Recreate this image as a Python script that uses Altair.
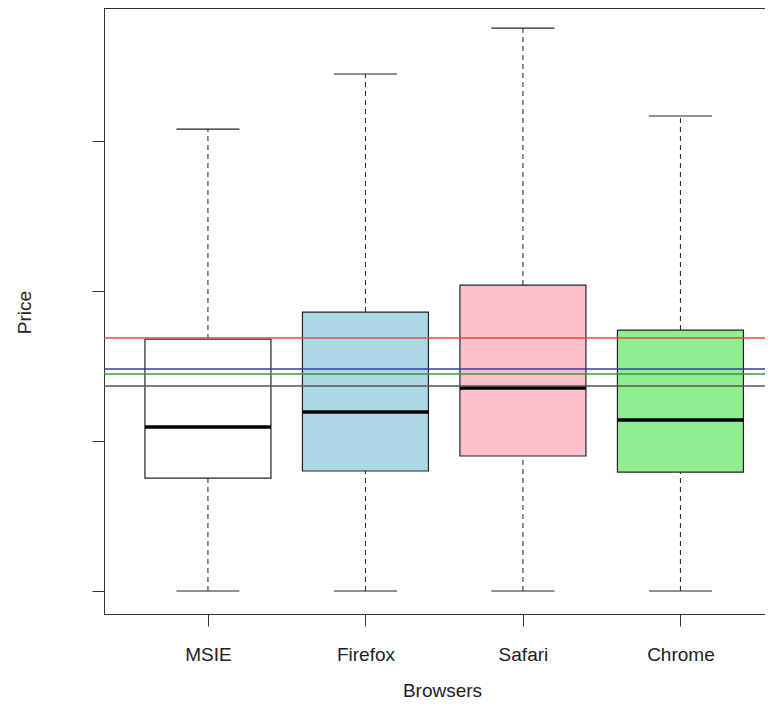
import json
import altair as alt
import pandas as pd

browsers = ["MSIE", "Firefox", "Safari", "Chrome"]
positions = [1, 2, 3, 4]
whisker_hi = [308.0, 344.7, 375.3, 316.7]
q3 = [168.0, 186.0, 204.0, 174.0]
median = [109.3, 119.3, 135.3, 114.0]
q1 = [75.3, 80.0, 90.0, 79.3]
whisker_lo = [0.0, 0.0, 0.0, 0.0]
fills = ["#FFFFFF", "#ADD8E6", "#FFC0CB", "#90EE90"]

hline_values = [168.7, 148.0, 144.7, 136.7]
hline_colors = ["#E8484A", "#2F3F9A", "#3A9A3A", "#555555"]

y_ticks = [0, 100, 200, 300]

BOX_HALF = 0.4
CAP_HALF = 0.2
X_DOMAIN = [0.34, 4.537]
Y_DOMAIN = [-15.33, 388.7]
FONT = "Liberation Sans"
W, H = 661, 606

df = pd.DataFrame({
    "browser": browsers,
    "pos": positions,
    "hi": whisker_hi,
    "q3": q3,
    "med": median,
    "q1": q1,
    "lo": whisker_lo,
    "fill": fills,
})
df["bl"] = df["pos"] - BOX_HALF
df["br"] = df["pos"] + BOX_HALF
df["cl"] = df["pos"] - CAP_HALF
df["cr"] = df["pos"] + CAP_HALF

hl = pd.DataFrame({"v": hline_values, "c": hline_colors})

label_expr = json.dumps(browsers) + "[datum.value - 1]"

xscale = alt.Scale(domain=X_DOMAIN, nice=False, zero=False)
yscale = alt.Scale(domain=Y_DOMAIN, nice=False, zero=False)

x_axis = alt.Axis(
    values=positions, labelExpr=label_expr, title="Browsers",
    grid=False, tickSize=12, tickColor="#333333", domainColor="#333333",
    labelFont=FONT, labelFontSize=19, labelColor="#222222",
    labelBaseline="alphabetic", labelPadding=34, labelFlush=False,
    titleFont=FONT, titleFontSize=19, titleFontWeight="normal", titleColor="#222222",
    titleX=338, titleY=82, titleBaseline="alphabetic", titleAlign="center",
)
y_axis = alt.Axis(
    values=y_ticks, labels=False, title="Price", grid=False,
    tickSize=12, tickColor="#333333", domainColor="#333333",
    titleFont=FONT, titleFontSize=19, titleFontWeight="normal", titleColor="#222222",
    titleAngle=-90, titleX=-74, titleY=304, titleBaseline="alphabetic", titleAlign="center",
)

base = alt.Chart(df)

upper_whisker = base.mark_rule(color="#222222", strokeWidth=1, strokeDash=[5, 4]).encode(
    x=alt.X("pos:Q", scale=xscale, axis=x_axis),
    y=alt.Y("q3:Q", scale=yscale, axis=y_axis),
    y2="hi:Q",
)
lower_whisker = base.mark_rule(color="#222222", strokeWidth=1, strokeDash=[5, 4]).encode(
    x=alt.X("pos:Q", scale=xscale), y=alt.Y("lo:Q", scale=yscale), y2="q1:Q"
)
caps_hi = base.mark_rule(color="#222222", strokeWidth=1.2).encode(
    x=alt.X("cl:Q", scale=xscale), x2="cr:Q", y=alt.Y("hi:Q", scale=yscale)
)
caps_lo = base.mark_rule(color="#222222", strokeWidth=1.2).encode(
    x=alt.X("cl:Q", scale=xscale), x2="cr:Q", y=alt.Y("lo:Q", scale=yscale)
)
boxes = base.mark_rect(stroke="#222222", strokeWidth=1.2).encode(
    x=alt.X("bl:Q", scale=xscale), x2="br:Q",
    y=alt.Y("q1:Q", scale=yscale), y2="q3:Q",
    fill=alt.Fill("fill:N", scale=None),
)
medians = base.mark_rule(color="#000000", strokeWidth=3.5).encode(
    x=alt.X("bl:Q", scale=xscale), x2="br:Q", y=alt.Y("med:Q", scale=yscale)
)
hlines = alt.Chart(hl).mark_rule(strokeWidth=1.5).encode(
    y=alt.Y("v:Q", scale=yscale),
    color=alt.Color("c:N", scale=None),
)
top_frame = alt.Chart(df).mark_rule(color="#333333", strokeWidth=1.2).encode(
    x=alt.value(0), x2=alt.value(W), y=alt.value(0.5)
)

chart = alt.layer(
    upper_whisker, lower_whisker, boxes, medians, caps_hi, caps_lo, hlines, top_frame
).properties(
    width=W, height=H,
    autosize=alt.AutoSizeParams(type="none"),
    padding={"left": 96, "top": 0, "right": 0, "bottom": 87},
).configure_view(stroke=None).configure(background="white")

chart.save("out.html", embed_options={"renderer": "svg", "actions": False})
